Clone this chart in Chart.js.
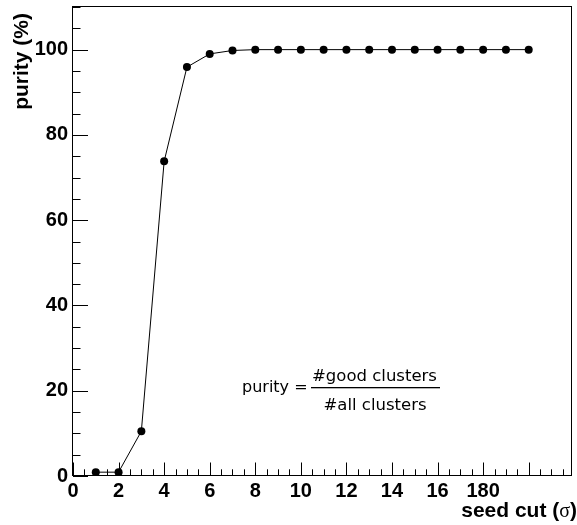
<!DOCTYPE html>
<html><head><meta charset="utf-8">
<script src="https://cdn.jsdelivr.net/npm/chart.js@4.4.0/dist/chart.umd.min.js"></script>
<style>html,body{margin:0;padding:0;background:#fff;}#wrap{width:577px;height:525px;}</style>
</head><body><div id="wrap"><canvas id="c" width="577" height="525"></canvas></div>
<script>
// ---- data ----
const seedCut = [1,2,3,4,5,6,7,8,9,10,11,12,13,14,15,16,17,18,19,20];
const purity  = [0.9,0.9,10.5,73.8,95.9,99.0,99.8,100,100,100,100,100,100,100,100,100,100,100,100,100];
const xTickLabels = {0:'0',2:'2',4:'4',6:'6',8:'8',10:'10',12:'12',14:'14',16:'16',18:'180'};
const yTickLabels = {0:'0',20:'20',40:'40',60:'60',80:'80',100:'100'};
const xTitleMain = 'seed cut (';
const xTitleSym = 'σ';
const xTitleEnd = ')';
const yTitle = 'purity (%)';
const formulaLhs = 'purity =';
const formulaNum = '#good clusters';
const formulaDen = '#all clusters';

const framePlugin = {
  id: 'frameTicks',
  beforeDatasetsDraw(chart) {
    const {ctx, chartArea: a, scales: {x, y}} = chart;
    ctx.save();
    ctx.strokeStyle = '#000';
    ctx.lineWidth = 1;
    ctx.beginPath();
    for (let i = 0; i <= 43; i++) {
      const v = i * 0.5;
      if (v > x.max) break;
      const px = Math.round(x.getPixelForValue(v)) + 0.5;
      const len = (i % 4 === 0) ? 13.5 : 6.7;
      ctx.moveTo(px, a.bottom);
      ctx.lineTo(px, a.bottom - len);
    }
    for (let i = 0; i <= 22; i++) {
      const v = i * 5;
      if (v > y.max) break;
      const py = Math.round(y.getPixelForValue(v)) + 0.5;
      const len = (i % 4 === 0) ? 15 : 7.5;
      ctx.moveTo(a.left, py);
      ctx.lineTo(a.left + len, py);
    }
    ctx.stroke();
    ctx.strokeRect(Math.round(a.left) - 0.5, Math.round(a.top) - 0.5,
                   Math.round(a.right - a.left), Math.round(a.bottom - a.top));
    ctx.restore();
  },
  afterDraw(chart) {
    const {ctx} = chart;
    ctx.save();
    ctx.fillStyle = '#000';
    ctx.save();
    ctx.translate(22, 13);
    ctx.rotate(-Math.PI / 2);
    ctx.font = 'bold 21px "Liberation Sans", Arial, sans-serif';
    ctx.textAlign = 'right';
    ctx.textBaseline = 'middle';
    ctx.fillText(yTitle, 0, 0);
    ctx.restore();
    const fb = 'bold 21px "Liberation Sans", Arial, sans-serif';
    const fs = '20px "Liberation Serif", serif';
    ctx.textBaseline = 'alphabetic';
    ctx.textAlign = 'left';
    ctx.font = fb; const w1 = ctx.measureText(xTitleMain).width; const w3 = ctx.measureText(xTitleEnd).width;
    ctx.font = fs; const w2 = ctx.measureText(xTitleSym).width;
    let xs = 577 - (w1 + w2 + w3);
    const by = 517;
    ctx.font = fb; ctx.fillText(xTitleMain, xs, by);
    ctx.font = fs; ctx.fillText(xTitleSym, xs + w1, by);
    ctx.font = fb; ctx.fillText(xTitleEnd, xs + w1 + w2, by);
    ctx.font = '16px "DejaVu Sans", Verdana, sans-serif';
    ctx.textAlign = 'left';
    ctx.fillText(formulaLhs, 242, 392);
    ctx.textAlign = 'center';
    ctx.font = '16.5px "DejaVu Sans", Verdana, sans-serif';
    ctx.fillText(formulaNum, 374.5, 380.5);
    ctx.fillText(formulaDen, 375, 410);
    ctx.fillRect(311, 387, 129, 1.3);
    ctx.restore();
  }
};

new Chart(document.getElementById('c'), {
  type: 'scatter',
  data: {
    datasets: [{
      data: seedCut.map((s, i) => ({x: s, y: purity[i]})),
      showLine: true,
      borderColor: '#000',
      borderWidth: 1,
      backgroundColor: '#000',
      pointBackgroundColor: '#000',
      pointBorderColor: '#000',
      pointRadius: 4,
      pointBorderWidth: 0,
      tension: 0
    }]
  },
  options: {
    responsive: false,
    animation: false,
    devicePixelRatio: 1,
    layout: {padding: {top: 7, right: 5, left: 0, bottom: 0}},
    plugins: {legend: {display: false}, tooltip: {enabled: false}},
    scales: {
      x: {
        type: 'linear', min: 0, max: 21.9,
        afterFit: s => { s.height = 49; s.paddingLeft = 0; s.paddingRight = 0; },
        grid: {display: false, drawTicks: false},
        border: {display: false},
        ticks: {
          stepSize: 2, includeBounds: false, autoSkip: false, maxRotation: 0,
          font: {family: '"Liberation Sans", Arial, sans-serif', size: 20, weight: 'bold'},
          color: '#000', padding: 3,
          callback: v => (xTickLabels[v] !== undefined ? xTickLabels[v] : '')
        }
      },
      y: {
        type: 'linear', min: 0, max: 110,
        afterFit: s => { s.width = 73; s.paddingTop = 0; s.paddingBottom = 0; },
        grid: {display: false, drawTicks: false},
        border: {display: false},
        ticks: {
          stepSize: 20, includeBounds: false,
          font: {family: '"Liberation Sans", Arial, sans-serif', size: 20, weight: 'bold'},
          color: '#000', padding: 5,
          callback: v => (yTickLabels[v] !== undefined ? yTickLabels[v] : '')
        }
      }
    }
  },
  plugins: [framePlugin]
});
</script>
</body></html>
